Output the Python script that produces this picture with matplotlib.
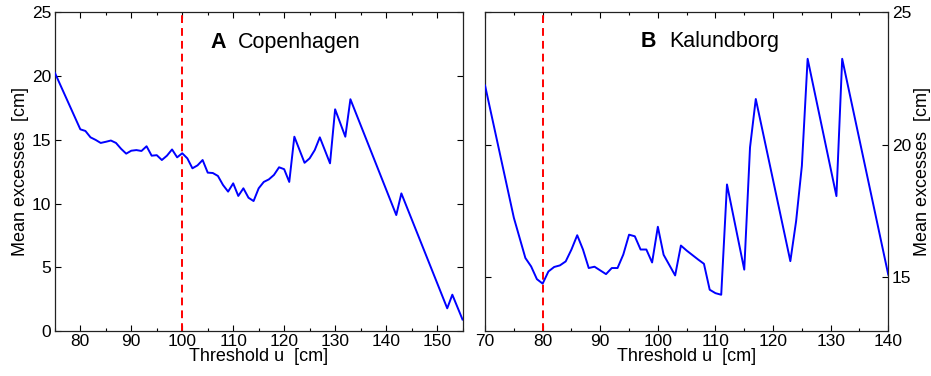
import matplotlib
matplotlib.use("Agg")
import matplotlib.pyplot as plt
from matplotlib.ticker import MultipleLocator

plt.rcParams['font.family'] = ['Liberation Sans', 'DejaVu Sans']

# Mean residual life (mean excess over threshold) for two tide-gauge stations
cph_u = [75, 80, 81, 82, 83, 84, 85, 86, 87, 88, 89, 90, 91, 92, 93, 94, 95, 96, 97, 98,
         99, 100, 101, 102, 103, 104, 105, 106, 107, 108, 109, 110, 111, 112, 113, 114,
         115, 116, 117, 118, 119, 120, 121, 122, 124, 125, 126, 127, 129, 130, 132, 133,
         142, 143, 152, 153, 155]
cph_me = [20.27, 15.83, 15.7, 15.2, 15.0, 14.76, 14.85, 14.95, 14.76, 14.3, 13.92, 14.15,
          14.2, 14.13, 14.5, 13.76, 13.8, 13.42, 13.76, 14.25, 13.63, 13.95, 13.55, 12.77,
          13.0, 13.42, 12.43, 12.4, 12.17, 11.46, 10.94, 11.59, 10.6, 11.2, 10.46, 10.2,
          11.2, 11.7, 11.9, 12.25, 12.85, 12.7, 11.7, 15.25, 13.2, 13.55, 14.2, 15.2, 13.16,
          17.4, 15.25, 18.19, 9.1, 10.8, 1.78, 2.85, 0.9]

kal_u = [70, 75, 77, 78, 79, 80, 81, 82, 83, 84, 85, 86, 87, 88, 89, 90, 91, 92, 93, 94,
         95, 96, 97, 98, 99, 100, 101, 102, 103, 104, 105, 106, 107, 108, 109, 110, 111,
         112, 115, 116, 117, 123, 124, 125, 126, 131, 132, 140]
kal_me = [22.24, 17.24, 15.72, 15.4, 14.92, 14.75, 15.21, 15.38, 15.44, 15.59, 16.04, 16.58,
          16.04, 15.34, 15.39, 15.25, 15.11, 15.34, 15.34, 15.85, 16.6, 16.54, 16.04, 16.04,
          15.55, 16.9, 15.84, 15.45, 15.06, 16.19, 16.0, 15.83, 15.66, 15.5, 14.52, 14.39,
          14.33, 18.5, 15.28, 19.9, 21.73, 15.6, 17.11, 19.2, 23.25, 18.06, 23.25, 15.09]

cph_threshold = 100
kal_threshold = 80

panels = [
    dict(letter="A", name="Copenhagen", u=cph_u, me=cph_me, thr=cph_threshold,
         xlim=(75, 155), ylim=(0, 25), yticks=[0, 5, 10, 15, 20, 25], side="left",
         rect=[0.0589, 0.1197, 0.4379, 0.8471], tx=0.381, ty=0.889, nx=0.449),
    dict(letter="B", name="Kalundborg", u=kal_u, me=kal_me, thr=kal_threshold,
         xlim=(70, 140), ylim=(12.96, 25), yticks=[15, 20, 25], side="right",
         rect=[0.5210, 0.1197, 0.4331, 0.8471], tx=0.387, ty=0.892, nx=0.456),
]

fig = plt.figure(figsize=(9.31, 3.76), dpi=100)

for p in panels:
    ax = fig.add_axes(p["rect"])
    ax.plot(p["u"], p["me"], color=(0, 0, 1), lw=1.4, zorder=3)
    ax.axvline(p["thr"], color=(1, 0, 0), lw=1.4, ls=(0, (4, 2.6)), zorder=2)
    ax.set_xlim(*p["xlim"])
    ax.set_ylim(*p["ylim"])
    ax.set_yticks(p["yticks"])
    ax.xaxis.set_major_locator(MultipleLocator(10))
    ax.xaxis.set_minor_locator(MultipleLocator(5))
    ax.tick_params(which="both", direction="in", top=True, bottom=True,
                   left=True, right=True, labelsize=12.5, pad=2.5)
    ax.tick_params(which="major", length=4.5, width=0.8)
    ax.tick_params(which="minor", length=2.5, width=0.8)
    if p["side"] == "right":
        ax.yaxis.tick_right()
        ax.yaxis.set_label_position("right")
        ax.tick_params(which="both", left=True, right=True, labelleft=False,
                       labelright=True)
    for s in ax.spines.values():
        s.set_linewidth(0.9)
        s.set_color("#222222")
    ax.set_xlabel("Threshold u  [cm]", fontsize=13, labelpad=-1)
    ax.set_ylabel("Mean excesses  [cm]", fontsize=13, labelpad=2,
                  rotation=90)
    ax.text(p["tx"], p["ty"], p["letter"], transform=ax.transAxes, fontsize=15.5,
            fontweight="bold", ha="left", va="baseline")
    ax.text(p["nx"], p["ty"], p["name"], transform=ax.transAxes, fontsize=15.5,
            ha="left", va="baseline")

fig.savefig("out.png", dpi=100)
